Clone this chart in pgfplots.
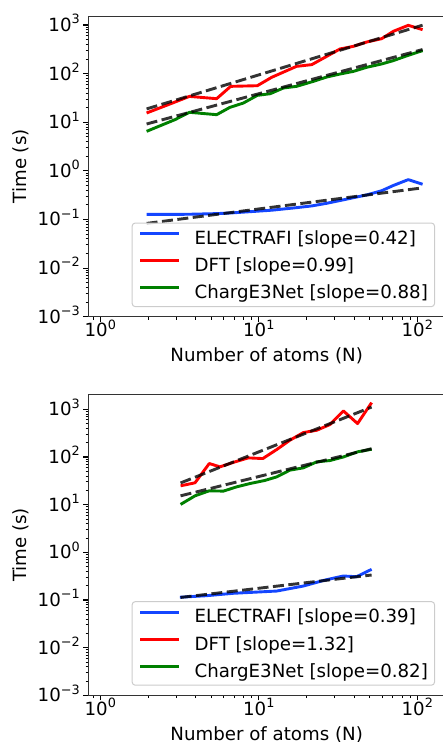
\documentclass[border=0pt]{standalone}
\usepackage{pgfplots}
\pgfplotsset{compat=1.18}
\usepackage{fontspec}
\setmainfont{DejaVu Sans}

\definecolor{cblue}{RGB}{20,70,255}
\definecolor{cred}{RGB}{255,0,0}
\definecolor{cgreen}{RGB}{0,128,0}
\definecolor{legframe}{RGB}{204,204,204}

\newcommand{\fs}{\fontsize{18.2}{22}\selectfont}
\newcommand{\tl}[1]{10\raisebox{0.42em}{\fontsize{12.8}{13}\selectfont #1}}

\tikzset{
  methline/.style={line width=2.9pt, line join=round},
  fitline/.style={black, opacity=0.8, line width=2.9pt,
    dash pattern=on 11pt off 4.5pt},
}

\pgfplotsset{
  every axis/.append style={
    scale only axis, width=356.7pt, height=300.7pt,
    xmin=0.84, xmax=149.6,
    xtick={1,10,100},
    xticklabels={\tl{0},\tl{1},\tl{2}},
    minor xtick={0.9,2,3,4,5,6,7,8,9,20,30,40,50,60,70,80,90},
    ytick={0.001,0.01,0.1,1,10,100,1000},
    yticklabels={\tl{−3},\tl{−2},\tl{−1},\tl{0},\tl{1},\tl{2},\tl{3}},
    minor ytick={0.002,0.003,0.004,0.005,0.006,0.007,0.008,0.009,
                 0.02,0.03,0.04,0.05,0.06,0.07,0.08,0.09,
                 0.2,0.3,0.4,0.5,0.6,0.7,0.8,0.9,
                 2,3,4,5,6,7,8,9,20,30,40,50,60,70,80,90,
                 200,300,400,500,600,700,800,900},
    xtick pos=bottom, ytick pos=left, tick align=outside,
    major tick length=5pt, minor tick length=2.8pt,
    major tick style={black, line width=1.1pt},
    minor tick style={black, line width=0.8pt},
    axis line style={black!80, line width=1pt},
    tick label style={font=\fs},
    xticklabel style={anchor=base, yshift=-15pt},
    yticklabel style={anchor=base east, yshift=-6.5pt},
    label style={font=\fs},
    xlabel style={at={(axis description cs:0.5,0)}, anchor=base, yshift=-45pt},
    ylabel style={at={(axis description cs:-0.190,0.5)}, anchor=center},
    legend style={at={(0.972,0.032)}, anchor=south east,
      draw=legframe, line width=1pt, rounded corners=3pt,
      fill=white, fill opacity=0.8, text opacity=1, draw opacity=1, font=\fs,
      inner xsep=6.6pt, inner ysep=8pt, row sep=13.8pt, column sep=14.5pt,
      nodes={inner sep=0pt, text height=13.3pt, text depth=0pt}},
    legend cell align=left,
    legend image code/.code={%
      \path[#1, draw opacity=1, line width=2.9pt, solid, draw]
        (0pt,4pt) -- (38.4pt,4pt);},
  },
}

\begin{document}
\begin{tikzpicture}

% upper panel
\begin{axis}[xmode=log, ymode=log, at={(88.3pt,-316.7pt)}, anchor=south west,
  ymin=0.001, ymax=1531,
  xlabel={Number of atoms (N)}, ylabel={Time (s)}]
\addplot[methline, cblue] coordinates {
  (1.96,0.127) (2.75,0.127) (3.65,0.128) (5.42,0.132) (6.65,0.136)
  (9.79,0.148) (12.05,0.155) (17.3,0.175) (21.6,0.19) (26.8,0.215)
  (32.5,0.245) (39.5,0.28) (48,0.32) (59.6,0.39) (70.6,0.5)
  (87.7,0.66) (108,0.53)
};
\addlegendentry{ELECTRAFI [slope=0.42]}
\addplot[fitline, forget plot] coordinates {(1.96,0.083) (108,0.447)};

\addplot[methline, cred] coordinates {
  (1.96,15.5) (2.75,23.7) (3.65,34.0) (5.42,30.5) (6.65,54.7)
  (9.79,56.4) (12.05,83.8) (17.3,141) (21.6,153) (26.8,226)
  (32.5,321) (39.5,364) (48,447) (59.6,523) (70.6,741)
  (87.7,985) (108,802)
};
\addlegendentry{DFT [slope=0.99]}
\addplot[fitline, forget plot] coordinates {(1.96,18.8) (108,990)};

\addplot[methline, cgreen] coordinates {
  (1.96,6.5) (2.96,11.3) (3.65,16.0) (5.42,14.3) (6.57,20.2)
  (7.99,24.8) (9.79,35.7) (11.8,38.6) (14.3,50.6) (17.3,54.7)
  (22.1,69.3) (26.8,85) (32.5,98) (39.5,111) (48,135)
  (59.6,158) (70.6,185) (87.7,238) (108,297)
};
\addlegendentry{ChargE3Net [slope=0.88]}
\addplot[fitline, forget plot] coordinates {(1.96,9.2) (108,313)};
\end{axis}

% lower panel
\begin{axis}[xmode=log, ymode=log, at={(88.3pt,-695.3pt)}, anchor=south west,
  ymin=0.001, ymax=2032,
  xlabel={Number of atoms (N)}, ylabel={Time (s)}]
\addplot[methline, cblue] coordinates {
  (3.18,0.114) (4.69,0.123) (6.9,0.138) (13,0.154) (19.1,0.196)
  (26.2,0.262) (34.1,0.318) (41.4,0.308) (51.5,0.439)
};
\addlegendentry{ELECTRAFI [slope=0.39]}
\addplot[fitline, forget plot] coordinates {(3.21,0.113) (51.5,0.334)};

\addplot[methline, cred] coordinates {
  (3.21,24.8) (3.96,28.7) (4.87,72.8) (5.69,62) (7.08,78.9)
  (8.59,95.6) (10.6,92.6) (12.97,143) (15.7,224) (19.1,325)
  (23.2,363) (28.1,478) (34.2,923) (42.0,501) (51.5,1380)
};
\addlegendentry{DFT [slope=1.32]}
\addplot[fitline, forget plot] coordinates {(3.21,28.5) (51.5,1112)};

\addplot[methline, cgreen] coordinates {
  (3.21,10.1) (3.96,15.3) (4.87,19.5) (5.98,19.2) (7.25,23.6)
  (8.8,27.7) (10.9,32.1) (13.0,38.3) (15.7,52.8) (19.1,59.1)
  (23.2,78.9) (28.1,84.1) (34.2,100) (42.0,128) (51.5,145)
};
\addlegendentry{ChargE3Net [slope=0.82]}
\addplot[fitline, forget plot] coordinates {(3.21,15.3) (51.5,149)};
\end{axis}

\pgfresetboundingbox
\useasboundingbox (0pt,0pt) rectangle (443pt,-742pt);
\end{tikzpicture}
\end{document}
